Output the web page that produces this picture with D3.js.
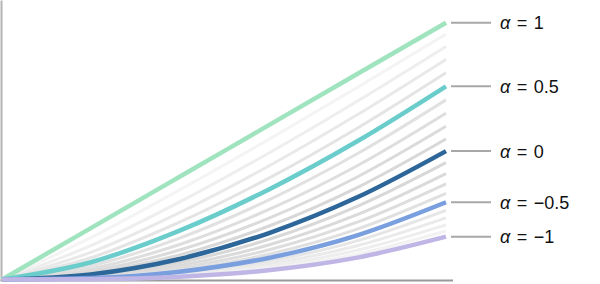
<!DOCTYPE html>
<html>
<head>
<meta charset="utf-8">
<script src="https://cdn.jsdelivr.net/npm/d3@7"></script>
<style>
  body { margin: 0; background: #fff; }
  svg { display: block; }
  .lbl { font-family: "Liberation Sans", Arial, sans-serif; font-size: 18px; fill: #111; word-spacing: 1.5px; }
</style>
</head>
<body>
<svg id="graphic"></svg>
<script>
  // x positions sampled along each curve
  var xs = [0, 0.2, 0.4, 0.6, 0.8, 1.0];

  // alpha values, from 1 down to -1 in steps of 0.1
  var alphas = [1, 0.9, 0.8, 0.7, 0.6, 0.5, 0.4, 0.3, 0.2, 0.1, 0,
                -0.1, -0.2, -0.3, -0.4, -0.5, -0.6, -0.7, -0.8, -0.9, -1];

  // y values, one row per alpha
  var values = [
    [0, 0.2000, 0.4000, 0.6000, 0.8000, 1.0000],
    [0, 0.1628, 0.3488, 0.5448, 0.7477, 0.9556],
    [0, 0.1316, 0.3022, 0.4917, 0.6944, 0.9076],
    [0, 0.1058, 0.2604, 0.4412, 0.6413, 0.8571],
    [0, 0.0846, 0.2231, 0.3937, 0.5890, 0.8050],
    [0, 0.0673, 0.1903, 0.3497, 0.5383, 0.7523],
    [0, 0.0533, 0.1614, 0.3089, 0.4895, 0.6995],
    [0, 0.0420, 0.1363, 0.2717, 0.4430, 0.6474],
    [0, 0.0329, 0.1147, 0.2379, 0.3992, 0.5965],
    [0, 0.0257, 0.0960, 0.2073, 0.3581, 0.5472],
    [0, 0.0200, 0.0800, 0.1800, 0.3200, 0.5000],
    [0, 0.0155, 0.0664, 0.1557, 0.2848, 0.4550],
    [0, 0.0119, 0.0549, 0.1341, 0.2525, 0.4125],
    [0, 0.0092, 0.0453, 0.1151, 0.2231, 0.3727],
    [0, 0.0070, 0.0372, 0.0984, 0.1963, 0.3354],
    [0, 0.0054, 0.0305, 0.0839, 0.1722, 0.3009],
    [0, 0.0041, 0.0248, 0.0713, 0.1506, 0.2690],
    [0, 0.0031, 0.0202, 0.0604, 0.1313, 0.2398],
    [0, 0.0023, 0.0164, 0.0510, 0.1140, 0.2130],
    [0, 0.0018, 0.0132, 0.0429, 0.0988, 0.1887],
    [0, 0.0013, 0.0107, 0.0360, 0.0853, 0.1667]
  ];

  // highlighted curves and their labels
  var highlight = [1, 0.5, 0, -0.5, -1];
  var highlightLabels = ["1", "0.5", "0", "\u22120.5", "\u22121"];
  var highlightColors = ["#9fe4be", "#6bcdcb", "#2d6699", "#7a9fde", "#c0b6e6"];

  // grey shade of the in-between curves
  var greys = {"0.9": "#f4f4f4", "0.8": "#eeeeee", "0.7": "#e9e9e9", "0.6": "#e4e4e4",
               "0.4": "#e1e1e1", "0.3": "#dedede", "0.2": "#dbdbdb", "0.1": "#d8d8d8",
               "-0.1": "#d8d8d8", "-0.2": "#dadada", "-0.3": "#dddddd", "-0.4": "#e0e0e0",
               "-0.6": "#e6e6e6", "-0.7": "#eaeaea", "-0.8": "#eeeeee", "-0.9": "#f2f2f2"};

  var svgWidth = 600, svgHeight = 284;
  var svg = d3.select('#graphic')
  .attr("width", svgWidth)
  .attr("height", svgHeight);

  var x = d3.scaleLinear().domain([0, 1]).range([2, 446]);
  var y = d3.scaleLinear().domain([0, 1]).range([279.5, 22.7]);

  // axis lines only, no ticks
  var xAxisScale = d3.scaleLinear().domain([0, 1]).range([0, 452.5]);
  var yAxisScale = d3.scaleLinear().domain([0, 1]).range([280, 0]);

  svg.append("g")
  .attr("transform", "translate(0,280)")
  .call(d3.axisBottom(xAxisScale).ticks(0).tickSizeOuter(0))
  .select(".domain")
  .attr("stroke", "#9a9a9a")
  .attr("stroke-width", 2);

  svg.append("g")
  .attr("transform", "translate(1,0)")
  .call(d3.axisLeft(yAxisScale).ticks(0).tickSizeOuter(0))
  .select(".domain")
  .attr("stroke", "#b4b4b4")
  .attr("stroke-width", 2);

  var line = d3.line()
  .x(function(d, i) { return x(xs[i]); })
  .y(function(d) { return y(d); })
  .curve(d3.curveMonotoneX);

  // grey curves first
  var greyRows = alphas.map(function(a, i) { return {a: a, v: values[i]}; })
  .filter(function(d) { return highlight.indexOf(d.a) < 0; });

  svg.append("g").selectAll("path")
  .data(greyRows)
  .enter()
  .append("path")
  .attr("d", function(d) { return line(d.v); })
  .attr("fill", "none")
  .attr("stroke", function(d) { return greys[String(d.a)]; })
  .attr("stroke-width", 3);

  // highlighted curves on top
  var hiRows = highlight.map(function(a, k) {
    return {a: a, v: values[alphas.indexOf(a)], color: highlightColors[k], label: highlightLabels[k]};
  });

  svg.append("g").selectAll("path")
  .data(hiRows)
  .enter()
  .append("path")
  .attr("d", function(d) { return line(d.v); })
  .attr("fill", "none")
  .attr("stroke", function(d) { return d.color; })
  .attr("stroke-width", 4.5);

  // leader lines and labels
  var lab = svg.append("g").selectAll("g")
  .data(hiRows)
  .enter()
  .append("g")
  .attr("transform", function(d) { return "translate(0," + y(d.v[d.v.length - 1]) + ")"; });

  lab.append("line")
  .attr("x1", 451).attr("x2", 491)
  .attr("stroke", "#a8a8a8")
  .attr("stroke-width", 2);

  var txt = lab.append("text")
  .attr("class", "lbl")
  .attr("x", 500)
  .attr("dy", "0.36em");

  txt.append("tspan")
  .attr("font-style", "italic")
  .text("\u03b1");
  txt.append("tspan")
  .text(function(d) { return " = " + d.label; });
</script>
</body>
</html>
